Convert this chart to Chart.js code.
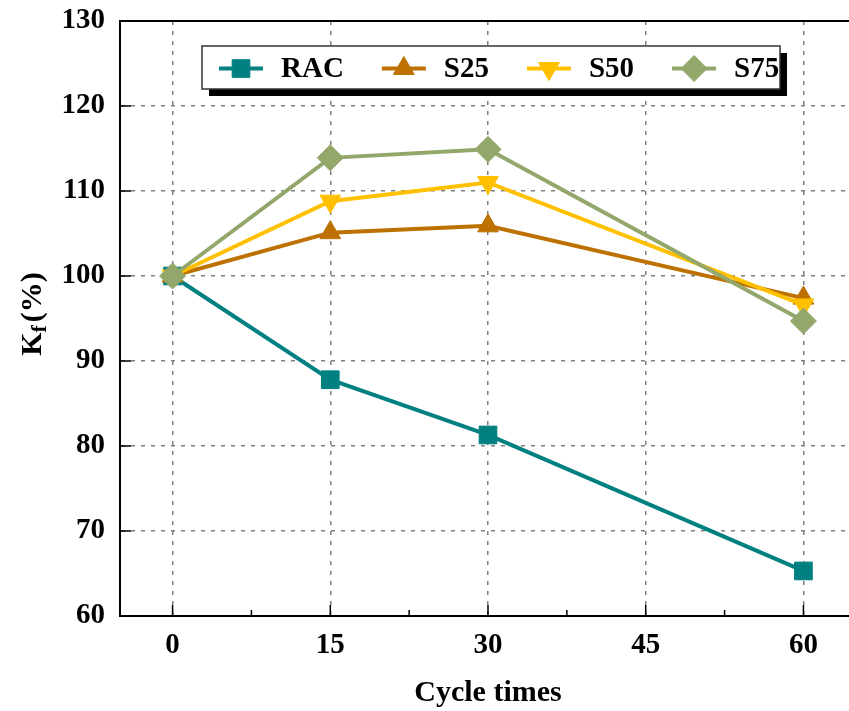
<!DOCTYPE html>
<html>
<head>
<meta charset="utf-8">
<script src="https://cdn.jsdelivr.net/npm/chart.js@4/dist/chart.umd.min.js"></script>
<style>
  html, body { margin: 0; padding: 0; background: #fff; overflow: hidden; }
</style>
</head>
<body>
<canvas id="chart-kf" width="870" height="711"></canvas>
<script>
// data
var cycles = [0, 15, 30, 60];
var racValues = [100, 87.8, 81.3, 65.3];
var s25Values = [100, 105.1, 105.9, 97.4];
var s50Values = [100, 108.8, 111.0, 96.6];
var s75Values = [100, 113.9, 114.9, 94.7];
var xTicks = [0, 15, 30, 45, 60];
var xMinorTicks = [7.5, 22.5, 37.5, 52.5];
var yTicks = [60, 70, 80, 90, 100, 110, 120, 130];

var FONT = 'Liberation Serif';

function points(vals) {
    return cycles.map(function (c, i) { return { x: c, y: vals[i] }; });
}

var datasets = [
    { label: 'RAC', data: points(racValues), borderColor: '#008080', backgroundColor: '#008080',
      pointStyle: 'rect', pointRadius: 12.5, pointRotation: 0, order: 3 },
    { label: 'S25', data: points(s25Values), borderColor: '#BC7100', backgroundColor: '#BC7100',
      pointStyle: 'triangle', pointRadius: 12, pointRotation: 0, order: 2 },
    { label: 'S50', data: points(s50Values), borderColor: '#FFC000', backgroundColor: '#FFC000',
      pointStyle: 'triangle', pointRadius: 12, pointRotation: 180, order: 1 },
    { label: 'S75', data: points(s75Values), borderColor: '#93A76A', backgroundColor: '#93A76A',
      pointStyle: 'rectRot', pointRadius: 13, pointRotation: 0, order: 0 }
];
datasets.forEach(function (d) {
    d.borderWidth = 4;
    d.pointBorderWidth = 1;
    d.pointBorderColor = d.borderColor;
    d.pointHoverRadius = d.pointRadius;
    d.tension = 0;
});

var decor = {
    id: 'decor',
    afterDraw: function (chart) {
        var ctx = chart.ctx, a = chart.chartArea;
        var xs = chart.scales.x, ys = chart.scales.y;
        ctx.save();

        // frame top/right
        ctx.strokeStyle = '#000';
        ctx.lineWidth = 2;
        ctx.beginPath();
        ctx.moveTo(a.left - 1, a.top);
        ctx.lineTo(a.right, a.top);
        ctx.lineTo(a.right, a.bottom);
        ctx.stroke();

        // inward ticks
        ctx.lineWidth = 1.5;
        ctx.beginPath();
        xTicks.forEach(function (v) {
            var px = xs.getPixelForValue(v);
            ctx.moveTo(px, a.bottom); ctx.lineTo(px, a.bottom - 11);
        });
        xMinorTicks.forEach(function (v) {
            var px = xs.getPixelForValue(v);
            ctx.moveTo(px, a.bottom); ctx.lineTo(px, a.bottom - 6);
        });
        yTicks.forEach(function (v) {
            var py = ys.getPixelForValue(v);
            ctx.moveTo(a.left, py); ctx.lineTo(a.left + 11, py);
        });
        ctx.stroke();

        // axis titles
        ctx.fillStyle = '#000';
        ctx.font = 'bold 30px ' + FONT;
        ctx.textAlign = 'center';
        ctx.textBaseline = 'middle';
        ctx.fillText('Cycle times', (a.left + a.right) / 2, 693);

        ctx.save();
        ctx.translate(33, 314);
        ctx.rotate(-Math.PI / 2);
        ctx.textAlign = 'left';
        ctx.font = 'bold 30px ' + FONT;
        var wK = ctx.measureText('K').width;
        var wP = ctx.measureText('(%)').width;
        ctx.font = 'bold 22px ' + FONT;
        var wF = ctx.measureText('f').width;
        var x0 = -(wK + wF + 3 + wP) / 2;
        ctx.font = 'bold 30px ' + FONT;
        ctx.fillText('K', x0, 0);
        ctx.font = 'bold 22px ' + FONT;
        ctx.fillText('f', x0 + wK, 7);
        ctx.font = 'bold 30px ' + FONT;
        ctx.fillText('(%)', x0 + wK + wF + 3, 0);
        ctx.restore();

        // legend box with drop shadow
        var bx = 202, by = 46, bw = 578, bh = 43;
        ctx.fillStyle = '#000';
        ctx.fillRect(bx + 7, by + 7, bw, bh);
        ctx.fillStyle = '#fff';
        ctx.fillRect(bx, by, bw, bh);
        ctx.strokeStyle = '#333';
        ctx.lineWidth = 1.5;
        ctx.strokeRect(bx, by, bw, bh);

        var cy = by + bh / 2 + 1;
        var lx = bx + 17;
        ctx.font = 'bold 29px ' + FONT;
        ctx.textAlign = 'left';
        ctx.textBaseline = 'middle';
        chart.data.datasets.forEach(function (d) {
            ctx.strokeStyle = d.borderColor;
            ctx.fillStyle = d.backgroundColor;
            ctx.lineWidth = 4;
            ctx.beginPath();
            ctx.moveTo(lx, cy); ctx.lineTo(lx + 44, cy);
            ctx.stroke();
            ctx.lineWidth = 1;
            Chart.helpers.drawPoint(ctx, {
                pointStyle: d.pointStyle, rotation: d.pointRotation,
                radius: d.pointRadius, borderWidth: 1
            }, lx + 22, cy);
            ctx.fillStyle = '#000';
            var tx = lx + 62;
            ctx.fillText(d.label, tx, cy + 1);
            lx = tx + ctx.measureText(d.label).width + 38;
        });

        ctx.restore();
    }
};

Chart.defaults.font.family = FONT;
Chart.defaults.font.weight = 'bold';
Chart.defaults.color = '#000';

var ctx = document.getElementById('chart-kf').getContext('2d');
var kfChart = new Chart(ctx, {
    type: 'line',
    data: { datasets: datasets },
    plugins: [decor],
    options: {
        responsive: false,
        maintainAspectRatio: false,
        devicePixelRatio: 1,
        animation: false,
        layout: { padding: { left: 0, top: 21, right: 12, bottom: 0 } },
        plugins: {
            legend: { display: false },
            tooltip: { enabled: false }
        },
        scales: {
            x: {
                type: 'linear',
                min: -5,
                max: 65,
                afterBuildTicks: function (s) {
                    s.ticks = xTicks.map(function (v) { return { value: v }; });
                },
                afterFit: function (s) {
                    s.height = 95;
                    s.paddingLeft = 0;
                    s.paddingRight = 0;
                },
                ticks: {
                    font: { family: FONT, size: 29, weight: 'bold' },
                    color: '#000',
                    padding: 12,
                    maxRotation: 0,
                    callback: function (v) { return v; }
                },
                grid: { color: '#808080', lineWidth: 1.5, drawTicks: false },
                border: { color: '#000', width: 2, dash: [4, 6] }
            },
            y: {
                min: 60,
                max: 130,
                afterBuildTicks: function (s) {
                    s.ticks = yTicks.map(function (v) { return { value: v }; });
                },
                afterFit: function (s) {
                    s.width = 120;
                    s.paddingTop = 0;
                    s.paddingBottom = 0;
                },
                ticks: {
                    font: { family: FONT, size: 29, weight: 'bold' },
                    color: '#000',
                    padding: 15
                },
                grid: { color: '#808080', lineWidth: 1.5, drawTicks: false },
                border: { color: '#000', width: 2, dash: [4, 6] }
            }
        }
    }
});
</script>
</body>
</html>
